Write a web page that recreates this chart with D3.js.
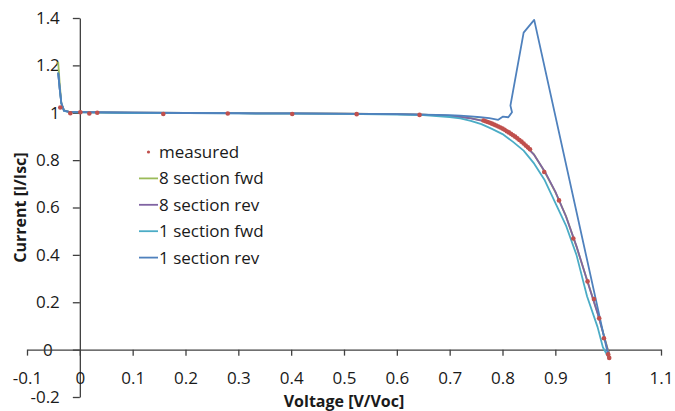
<!DOCTYPE html>
<html>
<head>
<meta charset="utf-8">
<script src="https://cdn.jsdelivr.net/npm/d3@7"></script>
<style>
  body { margin: 0; background: #fff; }
  svg text { font-family: "Open Sans", sans-serif; fill: #1a1a1a; }
  .axis path, .axis line { stroke: #404040; stroke-width: 1.3; }
  .axis text { font-size: 17px; }
  .title { font-size: 16px; font-weight: bold; }
  .legend text { font-size: 17px; }
</style>
</head>
<body>
<div id="chart"></div>
<script>
// voltage grid shared by the three smooth model curves
const curveV = [-0.041, -0.038, -0.035, -0.03, -0.02, 0, 0.1, 0.2, 0.3, 0.4, 0.5, 0.6, 0.65, 0.7, 0.72, 0.74,
    0.76, 0.78, 0.8, 0.82, 0.84, 0.86, 0.88, 0.9, 0.92, 0.94, 0.96, 0.98, 0.99, 1.0, 1.003];

const fwd8 = [1.215, 1.12, 1.04, 1.01, 1.004, 1.003, 1.0, 0.999, 0.998, 0.997, 0.996, 0.994, 0.992, 0.987, 0.983, 0.977,
    0.968, 0.955, 0.935, 0.905, 0.87, 0.823, 0.75, 0.665, 0.565, 0.435, 0.295, 0.155, 0.075, -0.005, -0.035];

const rev8 = [1.17, 1.1, 1.04, 1.009, 1.004, 1.003, 1.0, 0.999, 0.998, 0.997, 0.996, 0.994, 0.992, 0.987, 0.982, 0.976,
    0.967, 0.954, 0.934, 0.905, 0.869, 0.822, 0.752, 0.667, 0.563, 0.437, 0.293, 0.153, 0.073, -0.008, -0.035];

const fwd1 = [1.17, 1.1, 1.04, 1.008, 1.003, 1.002, 0.999, 0.998, 0.997, 0.996, 0.995, 0.992, 0.99, 0.982, 0.976, 0.966,
    0.952, 0.932, 0.91, 0.877, 0.84, 0.785, 0.715, 0.62, 0.525, 0.4, 0.225, 0.095, 0.01, -0.03, -0.035];

// 1 section rev has its own points (the spike)
const rev1V = [-0.041, -0.038, -0.035, -0.03, -0.02, 0, 0.2, 0.4, 0.6, 0.7, 0.72, 0.74, 0.758, 0.775, 0.792, 0.801,
    0.811, 0.814, 0.818, 0.815, 0.84, 0.86, 1.001];
const rev1I = [1.167, 1.1, 1.04, 1.009, 1.004, 1.003, 0.999, 0.997, 0.994, 0.99, 0.988, 0.985, 0.981, 0.977, 0.970, 0.984,
    0.981, 0.99, 1.002, 1.03, 1.338, 1.392, -0.035];

const measV = [-0.037, -0.018, 0.001, 0.018, 0.033, 0.158, 0.28, 0.402, 0.524, 0.643,
    0.764, 0.768, 0.772, 0.776, 0.78, 0.784, 0.788, 0.792, 0.796, 0.8, 0.804, 0.808, 0.812, 0.816,
    0.82, 0.824, 0.828, 0.832, 0.836, 0.84, 0.844, 0.848, 0.852,
    0.879, 0.907, 0.934, 0.961, 0.973, 0.983, 0.992, 1.0, 1.002];
const measI = [1.022, 0.998, 1.002, 0.997, 1.0, 0.995, 0.997, 0.995, 0.994, 0.991,
    0.967, 0.964, 0.961, 0.958, 0.954, 0.95, 0.946, 0.942, 0.938, 0.933, 0.928, 0.922, 0.917, 0.911,
    0.905, 0.899, 0.892, 0.885, 0.878, 0.87, 0.862, 0.854, 0.846,
    0.75, 0.63, 0.469, 0.288, 0.214, 0.132, 0.048, -0.02, -0.035];

const xTicks = [-0.1, 0, 0.1, 0.2, 0.3, 0.4, 0.5, 0.6, 0.7, 0.8, 0.9, 1, 1.1];
const yTicks = [-0.2, 0, 0.2, 0.4, 0.6, 0.8, 1, 1.2, 1.4];

const seriesNames = ["measured", "8 section fwd", "8 section rev", "1 section fwd", "1 section rev"];
const seriesColors = ["#C0504D", "#9BBB59", "#8064A2", "#4BACC6", "#4F81BD"];

const width = 675, height = 411;
const margin = { top: 18, right: 14, bottom: 14, left: 27 };

const svg = d3.select("#chart").append("svg")
    .attr("width", width)
    .attr("height", height);

const x = d3.scaleLinear().domain([-0.1, 1.1]).range([margin.left, width - margin.right]);
const y = d3.scaleLinear().domain([-0.2, 1.4]).range([height - margin.bottom, margin.top]);

const fmt = function(d) { return String(+d.toFixed(1)); };

// y axis sits at V = 0
const yAxis = svg.append("g")
    .attr("class", "axis")
    .attr("transform", `translate(${x(0)},0)`)
    .call(d3.axisLeft(y).tickValues(yTicks).tickSize(7).tickSizeOuter(0).tickPadding(13).tickFormat(fmt));
yAxis.selectAll("text").attr("dx", function(d) { return d === 0 ? -7 : 0; });

// x axis sits at I = 0
svg.append("g")
    .attr("class", "axis")
    .attr("transform", `translate(0,${y(0)})`)
    .call(d3.axisBottom(x).tickValues(xTicks).tickSize(6).tickSizeOuter(0).tickPadding(16).tickFormat(fmt));

svg.append("text")
    .attr("class", "title")
    .attr("x", x(0.5))
    .attr("y", 407)
    .attr("text-anchor", "middle")
    .text("Voltage [V/Voc]");

svg.append("text")
    .attr("class", "title")
    .attr("transform", `translate(26,${(y(-0.2) + y(1.4)) / 2}) rotate(-90)`)
    .attr("text-anchor", "middle")
    .text("Current [I/Isc]");

const line = d3.line()
    .x(function(d) { return x(d[0]); })
    .y(function(d) { return y(d[1]); });

const curves = [
    { v: curveV, i: fwd8, color: seriesColors[1] },
    { v: curveV, i: rev8, color: seriesColors[2] },
    { v: curveV, i: fwd1, color: seriesColors[3] },
    { v: rev1V, i: rev1I, color: seriesColors[4] }
];

svg.append("g").selectAll("path")
    .data(curves).enter()
    .append("path")
    .attr("fill", "none")
    .attr("stroke", function(d) { return d.color; })
    .attr("stroke-width", 1.8)
    .attr("stroke-linejoin", "round")
    .attr("d", function(d) { return line(d.v.map(function(v, k) { return [v, d.i[k]]; })); });

svg.append("g").selectAll("circle")
    .data(measV.map(function(v, k) { return [v, measI[k]]; })).enter()
    .append("circle")
    .attr("cx", function(d) { return x(d[0]); })
    .attr("cy", function(d) { return y(d[1]); })
    .attr("r", 2.3)
    .attr("fill", seriesColors[0]);

// legend
const legend = svg.append("g").attr("class", "legend");
const rows = legend.selectAll("g")
    .data(seriesNames).enter()
    .append("g")
    .attr("transform", function(d, k) { return `translate(139,${152 + k * 26.4})`; });

rows.filter(function(d, k) { return k === 0; })
    .append("circle")
    .attr("cx", 9.5).attr("cy", 0).attr("r", 1.6)
    .attr("fill", seriesColors[0]);
rows.filter(function(d, k) { return k > 0; })
    .append("line")
    .attr("x1", 0).attr("x2", 19)
    .attr("stroke", function(d, k) { return seriesColors[k + 1]; })
    .attr("stroke-width", 1.8);
rows.append("text")
    .attr("x", 20)
    .attr("dy", "0.35em")
    .text(function(d) { return d; });
</script>
</body>
</html>
